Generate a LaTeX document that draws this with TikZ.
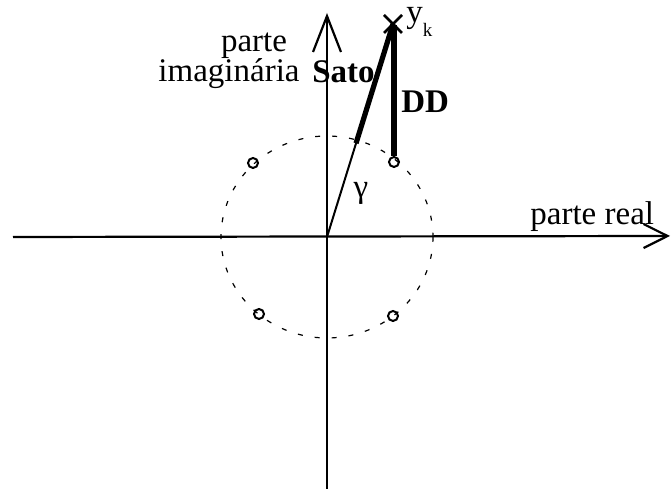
\documentclass[tikz,border=0pt]{standalone}
\usepackage{fontspec}
\setmainfont{Liberation Serif}
\usetikzlibrary{arrows.meta,calc}
\begin{document}
\begin{tikzpicture}[x=0.5pt,y=-0.5pt,
  axis/.style={line width=1.1pt},
  pole/.style={circle,draw,line width=1pt,inner sep=0pt,minimum size=5pt},
  lbl/.style={font=\fontsize{16.5}{18}\selectfont,inner sep=0pt},
  blbl/.style={lbl,font=\fontsize{16.5}{18}\selectfont\bfseries}]
\useasboundingbox (0,0) rectangle (671,490);

\coordinate (O) at (327,237);
\coordinate (xl) at (13,237);
\coordinate (xr) at (670,236);
\coordinate (yb) at (327,489);
\coordinate (yt) at (327,13);
\coordinate (yk) at (393,24);

% eixos
\draw[axis,-{Straight Barb[length=12pt,width=12pt]}] (xl) -- (xr);
\draw[axis,-{Straight Barb[length=18pt,width=14pt]}] (yb) -- (yt);
\node[lbl,anchor=base west] (re) at (530,225) {parte real};
\node[lbl,anchor=base] (im1) at (254,52) {parte};
\node[lbl,anchor=base] (im2) at (229,82) {imaginária};

% circulo unitario
\draw[line width=0.6pt,dash pattern=on 2.5pt off 6pt] (O) ellipse (106 and 101);

% polos
\node[pole] (p1) at (394,162) {};
\node[pole] (p2) at (253,163) {};
\node[pole] (p3) at (259,314) {};
\node[pole] (p4) at (393,316) {};

% y_k
\draw[line width=1.3pt] ($(yk)+(-9,-9)$) -- ($(yk)+(9,9)$)
  ($(yk)+(-9,9)$) -- ($(yk)+(9,-9)$);
\node[lbl,anchor=base west] (yklbl) at (406,23)
  {y\raisebox{-7pt}{\fontsize{9.5}{10}\selectfont k}};

% Sato
\draw[line width=1pt] (O) -- (yk);
\draw[line width=2.6pt] ($(O)!0.44!(yk)$) -- (yk);
\node[blbl,anchor=base west] (sato) at (312,83) {Sato};
\node[lbl,anchor=base] (gam) at (361,198) {γ};

% DD
\draw[line width=2.6pt] (p1.north) -- (394,25);
\node[blbl,anchor=base west] (dd) at (401,113) {DD};
\end{tikzpicture}
\end{document}
